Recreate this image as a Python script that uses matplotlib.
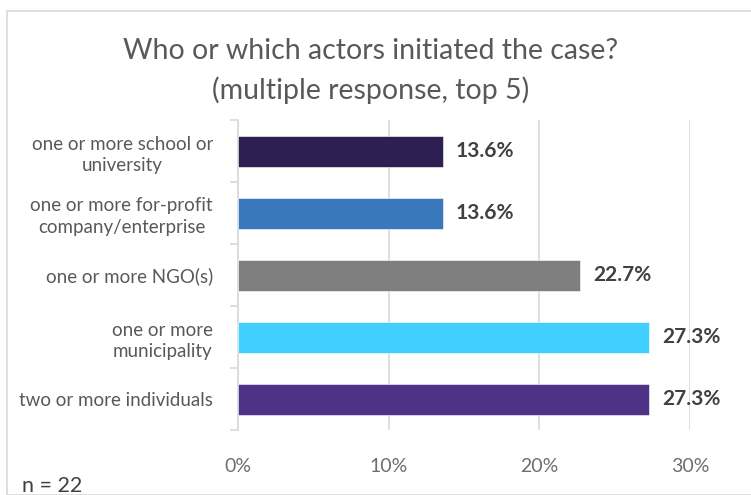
import matplotlib
matplotlib.use("Agg")
import matplotlib.pyplot as plt
from matplotlib.patches import Rectangle
from matplotlib.ticker import FuncFormatter

categories = [
    "one or more school or\nuniversity",
    "one or more for-profit\ncompany/enterprise",
    "one or more NGO(s)",
    "one or more\nmunicipality",
    "two or more individuals",
]
values = [13.6, 13.6, 22.7, 27.3, 27.3]
colors = ["#2E1F52", "#3A78BC", "#7F7F7F", "#40CFFF", "#4D3285"]
xticks = [0, 10, 20, 30]

plt.rcParams["font.family"] = ["Lato", "DejaVu Sans"]

W, H = 751, 495
fig = plt.figure(figsize=(W / 100, H / 100), dpi=100)

# outer frame of the chart area
fig.patches.append(Rectangle((7 / W, 0), 1, 1 - 11 / H, transform=fig.transFigure,
                             fill=False, edgecolor="#D9D9D9", linewidth=1.2))

ax = fig.add_axes([238 / W, 1 - 430 / H, (690 - 238) / W, (430 - 120) / H])

ypos = list(range(len(categories)))
ax.barh(ypos, values, height=0.5, color=colors, edgecolor="white", linewidth=0.4, zorder=3)
ax.set_ylim(len(categories) - 0.5, -0.5)
ax.set_xlim(0, 30)

for y, v in zip(ypos, values):
    ax.text(v + 0.85, y, f"{v:.1f}%", va="center", ha="left", fontsize=15,
            fontweight="bold", color="#404040", zorder=4)

ax.set_xticks(xticks)
ax.xaxis.set_major_formatter(FuncFormatter(lambda x, p: f"{x:.0f}%"))
ax.tick_params(axis="x", length=0, pad=20, labelsize=14, labelcolor="#6E6E6E")
ax.grid(axis="x", color="#D9D9D9", linewidth=1.2, zorder=0)

# category labels with separators between bands
ax.set_yticks(ypos)
ax.set_yticklabels(categories, fontsize=13.5, color="#595959", linespacing=1.3)
ax.tick_params(axis="y", length=0, pad=18)
ax.set_yticks([i - 0.5 for i in range(len(categories) + 1)], minor=True)
ax.tick_params(axis="y", which="minor", length=6, color="#D9D9D9", width=1.2)
for lab in ax.get_yticklabels():
    lab.set_horizontalalignment("right")
    lab.set_multialignment("center")

for s in ["top", "right", "bottom"]:
    ax.spines[s].set_visible(False)
ax.spines["left"].set_color("#D9D9D9")
ax.spines["left"].set_linewidth(1.2)

fig.text(371 / W, 1 - 71 / H,
         "Who or which actors initiated the case?\n(multiple response, top 5)",
         ha="center", va="center", fontsize=20.5, color="#595959", linespacing=1.55)

fig.text(22 / W, 1 - 486 / H, "n = 22", ha="left", va="center", fontsize=15.5, color="#404040")

fig.savefig("out.png", dpi=100)
